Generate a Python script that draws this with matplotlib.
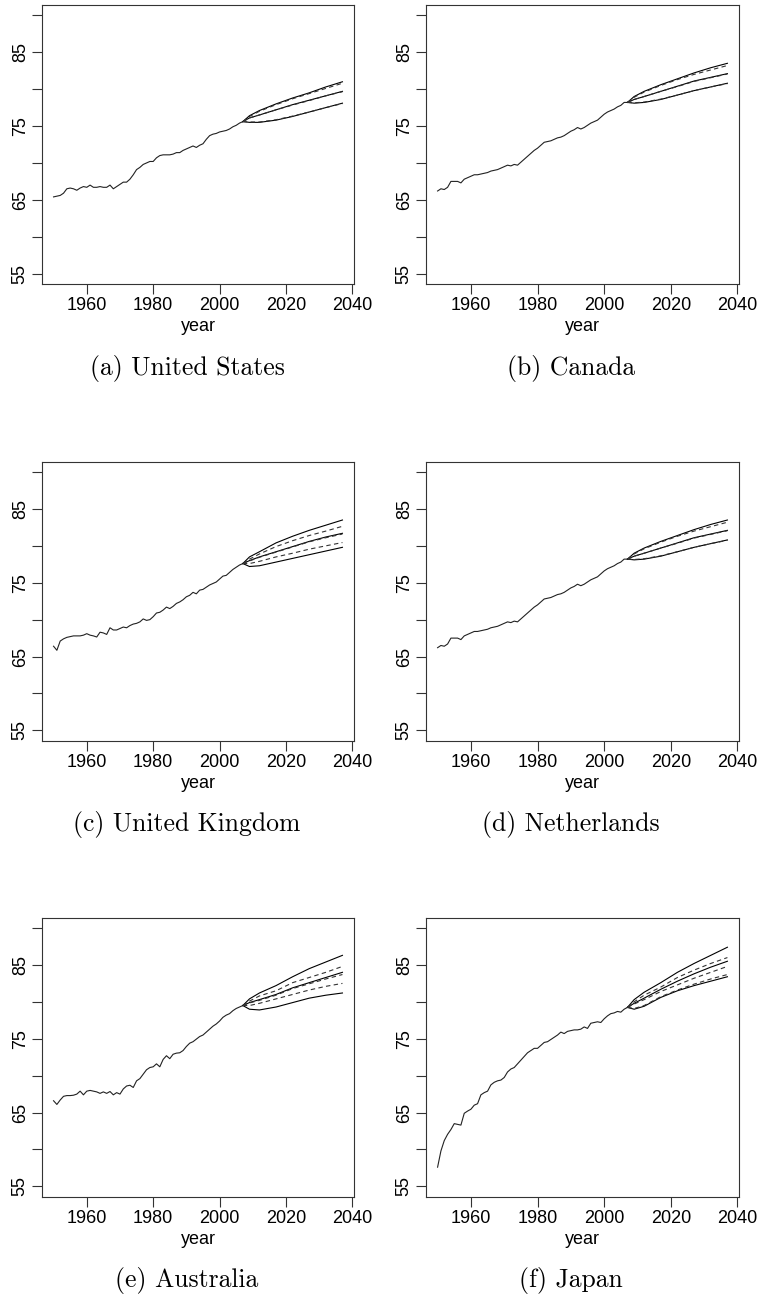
import matplotlib
matplotlib.use("Agg")
import matplotlib.pyplot as plt
import numpy as np

# observed male life expectancy, 1950-2007
years = list(range(1950, 2008))

us_hist = [65.4, 65.5, 65.6, 65.9, 66.5, 66.6, 66.5, 66.3, 66.6, 66.8,
           66.7, 67.0, 66.7, 66.7, 66.8, 66.7, 66.7, 67.0, 66.5, 66.8,
           67.1, 67.4, 67.4, 67.8, 68.4, 69.1, 69.4, 69.8, 70.0, 70.2,
           70.2, 70.7, 71.0, 71.1, 71.1, 71.1, 71.2, 71.4, 71.4, 71.7,
           71.9, 72.1, 72.3, 72.1, 72.4, 72.6, 73.2, 73.7, 73.9, 74.0,
           74.2, 74.3, 74.4, 74.6, 74.9, 75.1, 75.4, 75.6]
ca_hist = [66.2, 66.5, 66.4, 66.7, 67.5, 67.5, 67.5, 67.3, 67.8, 68.0,
           68.2, 68.4, 68.4, 68.5, 68.6, 68.7, 68.9, 69.0, 69.1, 69.3,
           69.5, 69.7, 69.6, 69.8, 69.7, 70.1, 70.5, 70.9, 71.3, 71.7,
           72.0, 72.4, 72.8, 72.9, 73.0, 73.2, 73.4, 73.5, 73.7, 74.0,
           74.3, 74.5, 74.8, 74.6, 74.8, 75.1, 75.4, 75.6, 75.8, 76.2,
           76.6, 76.9, 77.1, 77.3, 77.6, 77.8, 78.2, 78.2]
uk_hist = [66.4, 65.85, 67.1, 67.4, 67.6, 67.7, 67.8, 67.8, 67.8, 67.9,
           68.1, 67.9, 67.8, 67.65, 68.3, 68.2, 68.0, 68.9, 68.6, 68.6,
           68.8, 69.0, 68.9, 69.2, 69.4, 69.5, 69.7, 70.1, 69.9, 70.0,
           70.4, 70.9, 71.0, 71.3, 71.7, 71.5, 71.8, 72.2, 72.4, 72.7,
           73.1, 73.3, 73.7, 73.5, 74.0, 74.1, 74.4, 74.7, 74.9, 75.1,
           75.5, 75.9, 76.0, 76.4, 76.8, 77.1, 77.4, 77.6]
nl_hist = [66.2, 66.5, 66.4, 66.7, 67.5, 67.5, 67.5, 67.3, 67.8, 68.0,
           68.2, 68.4, 68.4, 68.5, 68.6, 68.7, 68.9, 69.0, 69.1, 69.3,
           69.5, 69.7, 69.6, 69.8, 69.7, 70.1, 70.5, 70.9, 71.3, 71.7,
           72.0, 72.4, 72.8, 72.9, 73.0, 73.2, 73.4, 73.5, 73.7, 74.0,
           74.3, 74.5, 74.8, 74.6, 74.8, 75.1, 75.4, 75.6, 75.8, 76.2,
           76.6, 76.9, 77.1, 77.3, 77.6, 77.8, 78.2, 78.2]
au_hist = [66.6, 66.1, 66.7, 67.2, 67.3, 67.3, 67.35, 67.5, 67.9, 67.4,
           67.9, 68.0, 67.9, 67.8, 67.6, 67.8, 67.6, 67.85, 67.4, 67.7,
           67.5, 68.2, 68.6, 68.7, 68.4, 69.3, 69.6, 70.2, 70.8, 71.1,
           71.2, 71.6, 71.2, 72.2, 72.7, 72.3, 72.9, 73.05, 73.1, 73.4,
           73.95, 74.4, 74.6, 74.95, 75.3, 75.5, 75.9, 76.3, 76.7, 77.0,
           77.4, 77.9, 78.2, 78.4, 78.8, 79.1, 79.3, 79.5]
jp_hist = [57.6, 59.8, 61.2, 62.05, 62.7, 63.5, 63.4, 63.3, 64.9, 65.2,
           65.45, 66.0, 66.2, 67.4, 67.7, 67.9, 68.75, 69.1, 69.3, 69.4,
           69.75, 70.5, 70.9, 71.1, 71.6, 72.1, 72.6, 73.1, 73.4, 73.7,
           73.7, 74.1, 74.5, 74.6, 74.9, 75.2, 75.5, 75.9, 75.7, 76.0,
           76.1, 76.2, 76.2, 76.3, 76.6, 76.4, 77.1, 77.2, 77.3, 77.2,
           77.7, 78.1, 78.4, 78.5, 78.7, 78.6, 79.0, 79.25]

# forecasts: [upper, mean, lower] for solid and dashed intervals
fc_years = [2007, 2009, 2012, 2017, 2022, 2027, 2032, 2037]

us_solid = [[75.6, 76.4, 77.1, 78.0, 78.8, 79.5, 80.3, 81.0],
            [75.6, 76.1, 76.5, 77.2, 77.9, 78.5, 79.1, 79.7],
            [75.6, 75.5, 75.5, 75.8, 76.3, 76.9, 77.5, 78.1]]
us_dashed = [[75.6, 76.3, 77.0, 77.9, 78.7, 79.4, 80.1, 80.8],
             [75.6, 76.1, 76.5, 77.2, 77.85, 78.45, 79.1, 79.65],
             [75.6, 75.55, 75.55, 75.85, 76.35, 76.9, 77.5, 78.05]]

ca_solid = [[78.2, 79.0, 79.7, 80.6, 81.4, 82.2, 82.9, 83.5],
            [78.2, 78.6, 79.0, 79.7, 80.4, 81.1, 81.6, 82.1],
            [78.2, 78.1, 78.2, 78.6, 79.2, 79.8, 80.3, 80.8]]
ca_dashed = [[78.2, 78.9, 79.6, 80.5, 81.3, 82.0, 82.6, 83.2],
             [78.2, 78.6, 79.0, 79.7, 80.35, 81.05, 81.55, 82.05],
             [78.2, 78.15, 78.25, 78.65, 79.2, 79.8, 80.3, 80.75]]

uk_solid = [[77.6, 78.5, 79.2, 80.4, 81.3, 82.1, 82.8, 83.5],
            [77.6, 78.0, 78.5, 79.2, 79.9, 80.6, 81.2, 81.7],
            [77.6, 77.2, 77.3, 77.8, 78.3, 78.8, 79.3, 79.8]]
uk_dashed = [[77.6, 78.2, 78.9, 79.9, 80.7, 81.4, 82.0, 82.65],
             [77.6, 77.95, 78.45, 79.15, 79.85, 80.55, 81.1, 81.6],
             [77.6, 77.6, 77.9, 78.5, 79.0, 79.55, 80.0, 80.45]]

nl_solid = [[78.2, 79.0, 79.7, 80.6, 81.4, 82.2, 82.9, 83.5],
            [78.2, 78.6, 79.0, 79.7, 80.4, 81.1, 81.6, 82.1],
            [78.2, 78.1, 78.2, 78.6, 79.2, 79.8, 80.3, 80.8]]
nl_dashed = [[78.2, 78.9, 79.6, 80.5, 81.3, 82.0, 82.6, 83.2],
             [78.2, 78.6, 79.0, 79.7, 80.35, 81.05, 81.55, 82.05],
             [78.2, 78.15, 78.25, 78.65, 79.2, 79.8, 80.3, 80.75]]

au_solid = [[79.5, 80.4, 81.2, 82.2, 83.4, 84.5, 85.4, 86.3],
            [79.5, 79.9, 80.3, 81.0, 81.9, 82.6, 83.3, 84.0],
            [79.5, 79.0, 78.9, 79.3, 79.9, 80.5, 80.9, 81.2]]
au_dashed = [[79.5, 80.1, 80.8, 81.5, 82.6, 83.3, 84.0, 84.8],
             [79.5, 79.85, 80.2, 80.9, 81.8, 82.45, 83.1, 83.7],
             [79.5, 79.5, 79.8, 80.4, 81.0, 81.6, 82.1, 82.5]]

jp_solid = [[79.25, 80.3, 81.3, 82.6, 84.0, 85.2, 86.3, 87.4],
            [79.25, 79.8, 80.5, 81.7, 82.8, 83.8, 84.7, 85.5],
            [79.25, 79.0, 79.4, 80.6, 81.5, 82.2, 82.8, 83.4]]
jp_dashed = [[79.25, 80.0, 80.9, 82.0, 83.3, 84.3, 85.2, 86.0],
             [79.25, 79.7, 80.3, 81.4, 82.3, 83.2, 84.0, 84.8],
             [79.25, 79.1, 79.5, 80.7, 81.6, 82.4, 83.1, 83.7]]

captions = ["(a) United States", "(b) Canada", "(c) United Kingdom",
            "(d) Netherlands", "(e) Australia", "(f) Japan"]

panels = [(us_hist, us_solid, us_dashed), (ca_hist, ca_solid, ca_dashed),
          (uk_hist, uk_solid, uk_dashed), (nl_hist, nl_solid, nl_dashed),
          (au_hist, au_solid, au_dashed), (jp_hist, jp_solid, jp_dashed)]

W, H = 762, 1297
fig = plt.figure(figsize=(W / 100, H / 100), dpi=100)

col_x = [(42, 312), (426, 313)]
row_top = [5, 461.7, 917.7]
ax_h = 279
cap_x = [187, 571]

tick_font = "Liberation Sans"
edge = "#333333"

for i, (hist, solid, dashed) in enumerate(panels):
    r, c = divmod(i, 2)
    x0, w = col_x[c]
    top = row_top[r]
    ax = fig.add_axes([x0 / W, 1 - (top + ax_h) / H, w / W, ax_h / H])

    ax.plot(years, hist, color="#222222", lw=0.8)
    for s in solid:
        ax.plot(fc_years, s, color="black", lw=0.8)
    for d in dashed:
        ax.plot(fc_years, d, color="#333333", lw=0.8, linestyle=(0, (4, 3)))

    ax.set_xlim(1946.52, 2040.48)
    ax.set_ylim(53.6, 91.4)
    ax.set_xticks([1960, 1980, 2000, 2020, 2040])
    ax.set_xticklabels(["1960", "1980", "2000", "2020", "2040"],
                       family=tick_font, fontsize=13)
    ax.set_yticks([55, 60, 65, 70, 75, 80, 85, 90])
    ax.set_yticklabels(["55", "", "65", "", "75", "", "85", ""],
                       family=tick_font, fontsize=13, rotation=90, va="center")
    ax.tick_params(direction="out", length=7, width=0.8, color=edge, pad=2.5)
    for sp in ax.spines.values():
        sp.set_color(edge)
        sp.set_linewidth(0.8)
    ax.set_xlabel("year", family=tick_font, fontsize=13, labelpad=3)

    fig.text(cap_x[c] / W, 1 - (top + 363) / H, captions[i],
             family="cmr10", fontsize=18.5, ha="center", va="center")

fig.savefig("out.png", dpi=100)
